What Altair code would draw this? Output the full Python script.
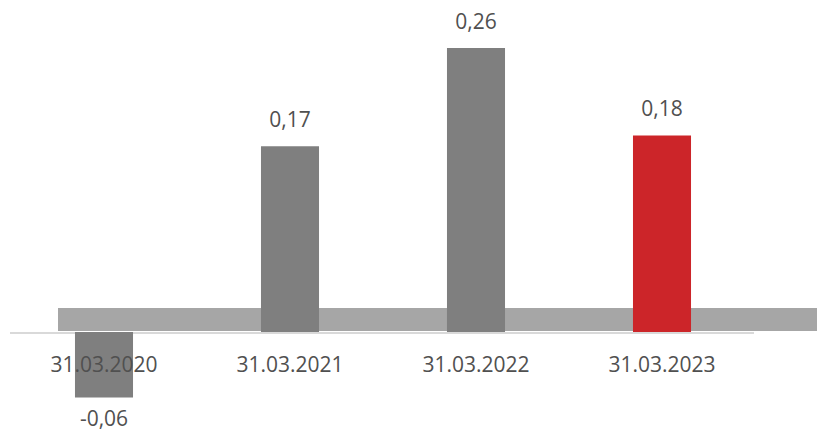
import altair as alt
import pandas as pd

dates = ["31.03.2020", "31.03.2021", "31.03.2022", "31.03.2023"]
values = [-0.06, 0.17, 0.26, 0.18]
labels = ["-0,06", "0,17", "0,26", "0,18"]
colors = ["#7f7f7f", "#7f7f7f", "#7f7f7f", "#cc2529"]

df = pd.DataFrame({"date": dates, "value": values, "label": labels, "color": colors})

FONT = "Open Sans"
TXT = "#505050"

x = alt.X("date:N", sort=dates, axis=None,
          scale=alt.Scale(paddingInner=0.688, paddingOuter=0.344))
yscale = alt.Scale(domain=[-0.0916, 0.2967], nice=False, zero=False)

base = alt.Chart(df)

band = base.mark_rect(color="#a6a6a6").encode(
    x=alt.value(47), x2=alt.value(806),
    y=alt.datum(0.0009, scale=yscale, axis=None), y2=alt.datum(0.022)
).transform_filter(alt.datum.date == dates[0])

zero = base.mark_rule(color="#d9d9d9", strokeWidth=2, yOffset=1).encode(
    x=alt.value(-1), x2=alt.value(743),
    y=alt.datum(0, scale=yscale, axis=None)
).transform_filter(alt.datum.date == dates[0])

bars = base.mark_bar().encode(
    x=x,
    y=alt.Y("value:Q", scale=yscale, axis=None),
    color=alt.Color("color:N", scale=None, legend=None),
)

pos_lbl = base.mark_text(font=FONT, fontSize=21, color=TXT, dy=-19,
                         baseline="alphabetic").encode(
    x=x, y=alt.Y("value:Q", scale=yscale, axis=None), text="label:N"
).transform_filter(alt.datum.value >= 0)

neg_lbl = base.mark_text(font=FONT, fontSize=21, color=TXT, dy=29,
                         baseline="alphabetic").encode(
    x=x, y=alt.Y("value:Q", scale=yscale, axis=None), text="label:N"
).transform_filter(alt.datum.value < 0)

cat_lbl = base.mark_text(font=FONT, fontSize=21, color=TXT, dy=40,
                         baseline="alphabetic").encode(
    x=x, y=alt.datum(0, scale=yscale, axis=None), text="date:N"
)

chart = alt.layer(band, zero, bars, pos_lbl, neg_lbl, cat_lbl).properties(
    width=744, height=424,
    autosize=alt.AutoSizeParams(type="none"),
    padding={"left": 3, "right": 62, "top": 0, "bottom": 0},
).configure_view(stroke=None)

chart.save("out.html", embed_options={"renderer": "svg", "actions": False})
